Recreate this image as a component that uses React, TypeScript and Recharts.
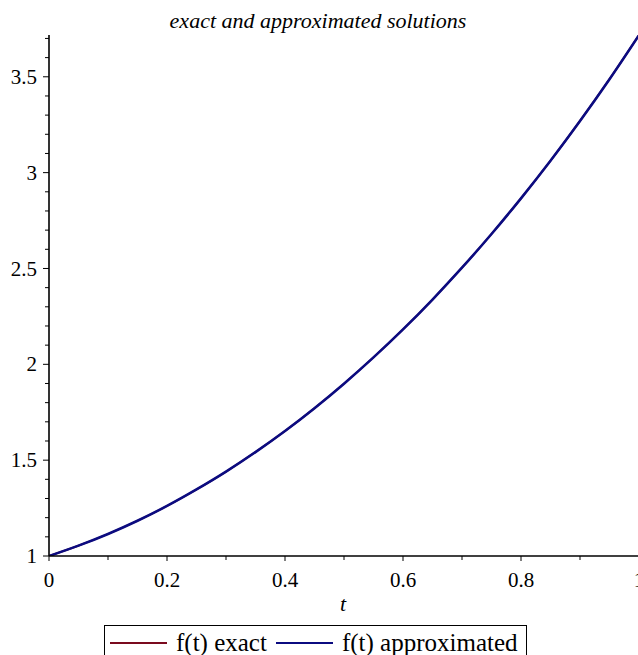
import { LineChart, Line, XAxis, YAxis } from "recharts";

// values
const tValues = [
  0, 0.05, 0.1, 0.15, 0.2, 0.25, 0.3, 0.35, 0.4, 0.45, 0.5, 0.55, 0.6, 0.65,
  0.7, 0.75, 0.8, 0.85, 0.9, 0.95, 1,
];
const exactValues = [
  1.0, 1.054, 1.115, 1.184, 1.261, 1.347, 1.44, 1.542, 1.652, 1.771, 1.899,
  2.036, 2.182, 2.338, 2.504, 2.68, 2.866, 3.062, 3.27, 3.488, 3.718,
];
const approxValues = [
  1.0, 1.054, 1.115, 1.184, 1.261, 1.347, 1.44, 1.542, 1.652, 1.771, 1.899,
  2.036, 2.182, 2.338, 2.504, 2.68, 2.866, 3.062, 3.269, 3.487, 3.717,
];

const xTicks = [0, 0.1, 0.2, 0.3, 0.4, 0.5, 0.6, 0.7, 0.8, 0.9, 1];
const yTicks = [
  1, 1.1, 1.2, 1.3, 1.4, 1.5, 1.6, 1.7, 1.8, 1.9, 2, 2.1, 2.2, 2.3, 2.4, 2.5,
  2.6, 2.7, 2.8, 2.9, 3, 3.1, 3.2, 3.3, 3.4, 3.5, 3.6, 3.7,
];
const seriesNames = ["f(t) exact", "f(t) approximated"];
const seriesColors = ["#7a0a1e", "#0b0b80"];

const chartData = tValues.map((t, i) => ({
  t,
  exact: exactValues[i],
  approx: approxValues[i],
}));

const FONT = "'Liberation Serif', 'DejaVu Serif', serif";

const isMultiple = (v: number, step: number) =>
  Math.abs(v / step - Math.round(v / step)) < 1e-6;

function XTick(props: any) {
  const { x, y, payload } = props;
  const major = isMultiple(payload.value, 0.2);
  return (
    <g>
      <line x1={x} y1={y} x2={x} y2={y + (major ? 5 : 4)} stroke="#000" strokeWidth={1} />
      {major && (
        <text x={x} y={y + 31} textAnchor="middle" fontFamily={FONT} fontSize={21} fill="#000">
          {String(Number(payload.value.toFixed(1)))}
        </text>
      )}
    </g>
  );
}

function YTick(props: any) {
  const { x, y, payload } = props;
  const major = isMultiple(payload.value, 0.5);
  return (
    <g>
      <line x1={x - (major ? 6 : 4)} y1={y} x2={x} y2={y} stroke="#000" strokeWidth={1} />
      {major && (
        <text x={x - 12} y={y} dy="0.34em" textAnchor="end" fontFamily={FONT} fontSize={21} fill="#000">
          {String(Number(payload.value.toFixed(1)))}
        </text>
      )}
    </g>
  );
}

export default function App() {
  return (
    <div
      style={{
        position: "absolute",
        left: 0,
        top: 0,
        width: 638,
        height: 655,
        overflow: "hidden",
        background: "#fff",
      }}
    >
      <div
        style={{
          position: "absolute",
          left: 0,
          width: 636,
          top: 8,
          textAlign: "center",
          fontFamily: FONT,
          fontStyle: "italic",
          fontSize: 22,
          lineHeight: "26px",
        }}
      >
        exact and approximated solutions
      </div>

      <LineChart
        width={660}
        height={655}
        data={chartData}
        margin={{ top: 35, right: 21, bottom: 69, left: 0 }}
      >
        <XAxis
          dataKey="t"
          type="number"
          domain={[0, 1]}
          ticks={xTicks}
          interval={0}
          allowDataOverflow
          height={30}
          tickSize={0}
          tickMargin={0}
          tickLine={false}
          tick={<XTick />}
          axisLine={{ stroke: "#000", strokeWidth: 1.6 }}
        />
        <YAxis
          type="number"
          domain={[1, 3.718]}
          ticks={yTicks}
          interval={0}
          allowDataOverflow
          width={49}
          tickSize={0}
          tickMargin={0}
          tickLine={false}
          tick={<YTick />}
          axisLine={{ stroke: "#000", strokeWidth: 1.6 }}
        />
        <Line
          type="monotone"
          dataKey="exact"
          stroke={seriesColors[0]}
          strokeWidth={1.8}
          dot={false}
          isAnimationActive={false}
        />
        <Line
          type="monotone"
          dataKey="approx"
          stroke={seriesColors[1]}
          strokeWidth={2.6}
          dot={false}
          isAnimationActive={false}
        />
      </LineChart>

      <div
        style={{
          position: "absolute",
          left: 340,
          top: 591,
          fontFamily: FONT,
          fontStyle: "italic",
          fontSize: 22,
          lineHeight: "26px",
        }}
      >
        t
      </div>

      <div
        style={{
          position: "absolute",
          left: 104,
          top: 625,
          width: 423,
          height: 40,
          border: "1.5px solid #000",
          boxSizing: "border-box",
          display: "flex",
          alignItems: "flex-start",
          paddingLeft: 5,
          paddingTop: 3,
          fontFamily: FONT,
          fontSize: 25,
          lineHeight: "28px",
          whiteSpace: "nowrap",
        }}
      >
        {seriesNames.map((name, i) => (
          <div
            key={name}
            style={{ display: "flex", alignItems: "center", marginRight: 9, flexShrink: 0 }}
          >
            <span
              style={{
                display: "inline-block",
                width: 57,
                height: 2.5,
                background: seriesColors[i],
                marginRight: 9,
                flexShrink: 0,
              }}
            />
            <span>{name}</span>
          </div>
        ))}
      </div>
    </div>
  );
}
